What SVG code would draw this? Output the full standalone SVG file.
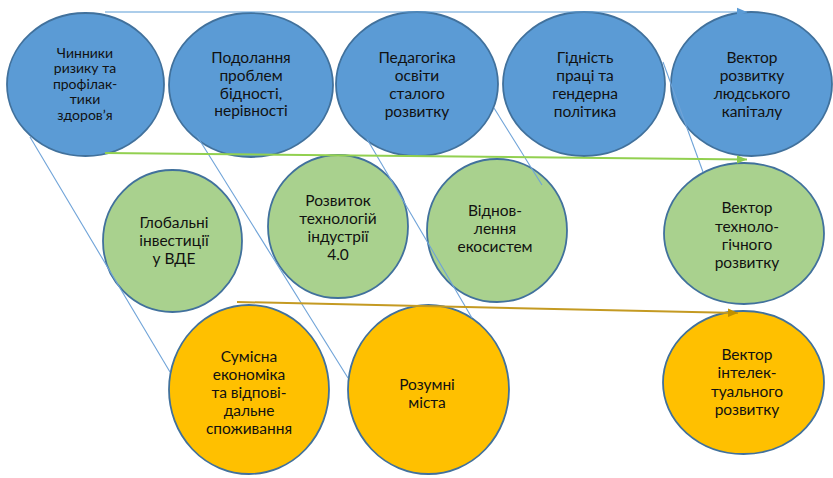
<svg xmlns="http://www.w3.org/2000/svg" width="833" height="478" viewBox="0 0 833 478">
<style>
.b{fill:#5B9BD5;stroke:#41719C;stroke-width:1.8}
.g{fill:#A9D18E;stroke:#41719C;stroke-width:1.8}
.o{fill:#FFC000;stroke:#41719C;stroke-width:1.8}
text{font-family:Lato,"Liberation Sans",sans-serif;font-size:15.5px;fill:#111;text-anchor:middle}
.sm{font-size:14px}
.thin{stroke:#6FA3D8;stroke-width:1.1;fill:none}
</style>
<defs>
<marker id="ab" markerUnits="userSpaceOnUse" markerWidth="12" markerHeight="10" refX="10" refY="5" orient="auto"><path d="M0,0.8 L10,5 L0,9.2 Z" fill="#5B9BD5"/></marker>
<marker id="ag" markerUnits="userSpaceOnUse" markerWidth="12" markerHeight="10" refX="10" refY="5" orient="auto"><path d="M0,0.8 L10,5 L0,9.2 Z" fill="#8CCB4E"/></marker>
<marker id="ao" markerUnits="userSpaceOnUse" markerWidth="12" markerHeight="10" refX="10" refY="5" orient="auto"><path d="M0,0.8 L10,5 L0,9.2 Z" fill="#BF9000"/></marker>
</defs>
<g id="n1"><ellipse class="b" cx="85.5" cy="84.5" rx="78.5" ry="71.5"/>
<text class="sm" x="85" y="57.5">Чинники</text><text class="sm" x="85" y="73">ризику та</text><text class="sm" x="85" y="88.5">профілак-</text><text class="sm" x="85" y="104">тики</text><text class="sm" x="85" y="119.5">здоровʼя</text></g>
<g id="n2"><ellipse class="b" cx="251" cy="85" rx="82" ry="72"/>
<text x="251" y="63">Подолання</text><text x="251" y="81">проблем</text><text x="251" y="99">бідності,</text><text x="251" y="116">нерівності</text></g>
<g id="n3"><ellipse class="b" cx="417" cy="84" rx="81" ry="72"/>
<text x="417" y="63">Педагогіка</text><text x="417" y="81">освіти</text><text x="417" y="99">сталого</text><text x="417" y="117">розвитку</text></g>
<g id="n4"><ellipse class="b" cx="584" cy="84" rx="81" ry="72"/>
<text x="585" y="63">Гідність</text><text x="585" y="81">праці та</text><text x="585" y="99">гендерна</text><text x="585" y="117">політика</text></g>
<g id="n5"><ellipse class="b" cx="751.5" cy="84" rx="80.5" ry="72"/>
<text x="752" y="63">Вектор</text><text x="752" y="81">розвитку</text><text x="752" y="99">людського</text><text x="752" y="117">капіталу</text></g>
<g id="n6"><ellipse class="g" cx="172.5" cy="241" rx="69.5" ry="71"/>
<text x="174" y="228">Глобальні</text><text x="174" y="246">інвестиції</text><text x="174" y="264">у ВДЕ</text></g>
<g id="n7"><ellipse class="g" cx="338" cy="226.5" rx="70" ry="71.5"/>
<text x="338" y="206">Розвиток</text><text x="338" y="224">технологій</text><text x="338" y="242">індустрії</text><text x="338" y="260">4.0</text></g>
<g id="n8"><ellipse class="g" cx="497" cy="230.5" rx="70" ry="71.5"/>
<text x="495" y="216">Віднов-</text><text x="495" y="234">лення</text><text x="495" y="252">екосистем</text></g>
<g id="n9"><ellipse class="g" cx="744" cy="233.5" rx="80" ry="70.5"/>
<text x="747" y="213">Вектор</text><text x="747" y="232">техноло-</text><text x="747" y="250">гічного</text><text x="747" y="268">розвитку</text></g>
<g id="n10"><ellipse class="o" cx="249" cy="389.5" rx="80" ry="84.5"/>
<text x="249" y="362">Сумісна</text><text x="249" y="380">економіка</text><text x="249" y="398">та відпові-</text><text x="249" y="416">дальне</text><text x="249" y="434">споживання</text></g>
<g id="n11"><ellipse class="o" cx="428.5" cy="389.5" rx="80.5" ry="84.5"/>
<text x="427" y="390">Розумні</text><text x="427" y="408">міста</text></g>
<g id="n12"><ellipse class="o" cx="743.5" cy="382.5" rx="80.5" ry="71.5"/>
<text x="747" y="360">Вектор</text><text x="747" y="378">інтелек-</text><text x="747" y="397">туального</text><text x="747" y="415">розвитку</text></g>
<g id="connectors">
<line class="thin" x1="30" y1="137" x2="170" y2="372"/>
<line class="thin" x1="197" y1="136" x2="348" y2="378"/>
<line class="thin" x1="367" y1="139" x2="472" y2="318"/>
<line class="thin" x1="494" y1="108" x2="542" y2="185"/>
<line class="thin" x1="663" y1="62" x2="703" y2="172"/>
<line x1="105" y1="12" x2="747" y2="12" stroke="#5B9BD5" stroke-width="1.2" marker-end="url(#ab)"/>
<line x1="105" y1="153" x2="747" y2="159.5" stroke="#92D050" stroke-width="2" marker-end="url(#ag)"/>
<line x1="237" y1="302" x2="738" y2="313" stroke="#C49A22" stroke-width="2" marker-end="url(#ao)"/>
</g>
</svg>
